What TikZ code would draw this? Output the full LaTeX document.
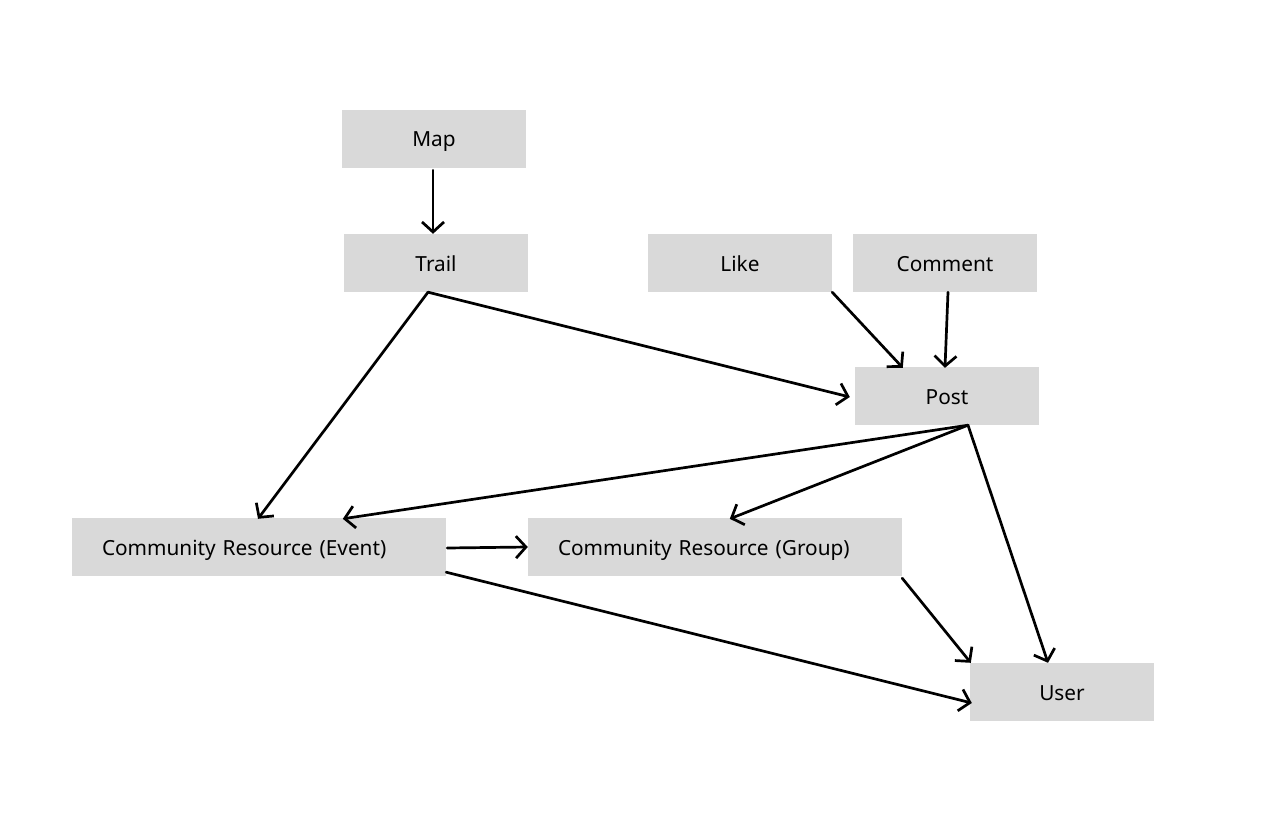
\documentclass[tikz,border=0pt]{standalone}
\usepackage{fontspec}
\setmainfont{Noto Sans}
\usetikzlibrary{arrows.meta,calc}
\definecolor{boxgray}{HTML}{D9D9D9}
\tikzset{
  ent/.style={fill=boxgray, draw=none, minimum width=184pt, minimum height=58pt, inner sep=0pt, text height=20pt, text depth=4pt, font=\fontsize{20.8}{24}\selectfont},
  wide/.style={fill=boxgray, draw=none, minimum height=58pt, text width=314pt, align=left, inner xsep=30pt, inner ysep=0pt, text height=20pt, text depth=4pt, font=\fontsize{20.8}{24}\selectfont},
  conn/.style={line width=2.7pt, -{Straight Barb[length=10pt,width=22pt,line width=2.7pt]}, line cap=round, line join=round}
}
\begin{document}
\begin{tikzpicture}[x=1pt,y=-1pt]
\useasboundingbox (0,0) rectangle (1280,832);
\node[ent] (map) at (434,139) {Map};
\node[ent] (trail) at (436,263) {Trail};
\node[ent] (like) at (740,263) {Like};
\node[ent] (comment) at (945,263) {Comment};
\node[ent] (post) at (947,396) {Post};
\node[wide] (event) at (259,547) {Community Resource (Event)};
\node[wide] (group) at (715,547) {Community Resource (Group)};
\node[ent] (user) at (1062,692) {User};

\draw[conn] ($(map.south)+(-1,2)$) -- ($(trail.north)+(-3,0)$);
\draw[conn] ($(trail.south)+(-8,0)$) -- ($(post.west)+(-5,1)$);
\draw[conn] ($(trail.south)+(-8,0)$) -- ($(event.north)+(-1,1)$);
\draw[conn] (like.south east) -- ($(post.north west)+(48,1)$);
\draw[conn] ($(comment.south)+(3,0)$) -- ($(post.north)+(-2,1)$);
\draw[conn] ($(post.south)+(21,0)$) -- ($(event.north west)+(271,1)$);
\draw[conn] ($(post.south)+(21,0)$) -- ($(group.north west)+(202,1)$);
\draw[conn] ($(post.south)+(21,0)$) -- ($(user.north)+(-14,0)$);
\draw[conn] ($(event.east)+(1,1)$) -- (group.west);
\draw[conn] ($(event.south east)+(0,-4)$) -- ($(user.west)+(2,11)$);
\draw[conn] ($(group.south east)+(0,2)$) -- ($(user.north west)+(1,0)$);
\end{tikzpicture}
\end{document}
